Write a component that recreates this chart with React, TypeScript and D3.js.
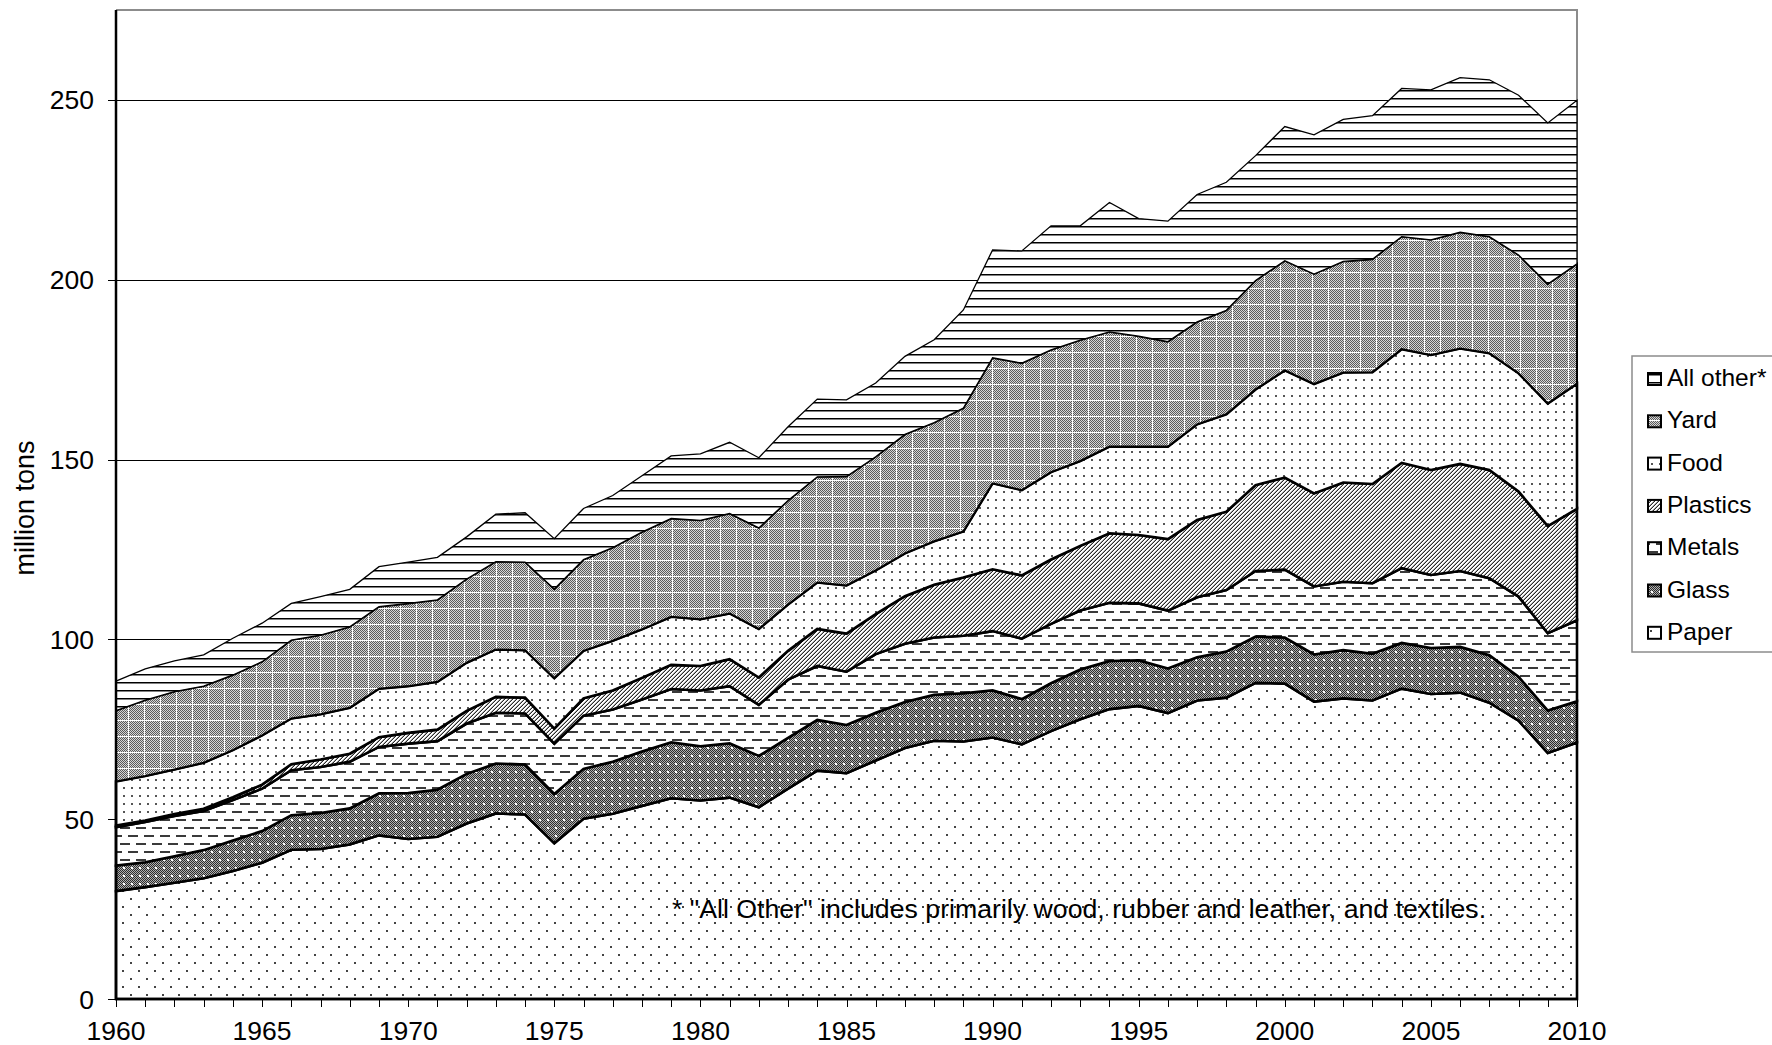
import React, { useRef, useEffect } from "react";
import * as d3 from "d3";

// MSW generation by material, million tons
const years = d3.range(1960, 2011);

const paper = [
  30.0, 31.1, 32.3, 33.6, 35.6, 37.9, 41.5, 41.7, 43.0, 45.5, 44.5,
  45.1, 48.8, 51.6, 51.3, 43.3, 50.1, 51.5, 53.7, 55.8, 55.2,
  56.0, 53.3, 58.5, 63.5, 62.8, 66.3, 69.8, 71.8, 71.6, 72.7,
  70.8, 74.5, 77.8, 80.6, 81.5, 79.5, 83.0, 83.8, 87.9, 87.7,
  82.7, 83.6, 83.0, 86.3, 84.8, 85.2, 82.4, 77.4, 68.4, 71.3,
];
const glass = [
  7.1, 6.9, 7.4, 7.8, 8.5, 8.8, 9.6, 10.0, 10.0, 11.7, 12.8,
  13.1, 13.8, 13.9, 13.9, 13.7, 13.9, 14.5, 15.1, 15.6, 15.1,
  15.1, 14.3, 14.1, 14.1, 13.4, 13.3, 12.8, 12.8, 13.4, 13.1,
  12.6, 13.3, 13.8, 13.4, 12.7, 12.4, 12.0, 12.8, 12.9, 12.8,
  13.1, 13.4, 13.0, 12.7, 12.8, 12.7, 13.2, 12.2, 11.8, 11.5,
];
const metals = [
  10.7, 11.2, 11.2, 10.9, 11.2, 11.8, 12.5, 12.8, 13.0, 12.9, 13.7,
  13.5, 14.0, 14.1, 14.2, 14.0, 14.8, 14.5, 14.5, 14.8, 15.5,
  15.9, 14.2, 16.2, 15.0, 14.8, 16.3, 16.2, 15.9, 16.0, 16.5,
  16.8, 16.5, 16.4, 16.2, 15.8, 16.1, 16.7, 17.1, 18.2, 18.9,
  18.9, 19.0, 19.6, 20.8, 20.3, 21.1, 21.4, 22.3, 21.5, 22.5,
];
const plastics = [
  0.4, 0.4, 0.5, 0.6, 0.8, 1.1, 1.7, 2.1, 2.2, 2.7, 3.0,
  3.2, 3.5, 4.4, 4.4, 4.2, 4.8, 5.3, 6.0, 6.7, 6.8,
  7.5, 7.6, 8.0, 10.3, 10.6, 11.1, 13.2, 14.7, 16.2, 17.2,
  17.6, 17.9, 18.0, 19.3, 19.0, 19.9, 21.5, 21.8, 23.9, 25.6,
  25.9, 27.6, 27.6, 29.3, 29.2, 29.8, 30.1, 29.2, 29.8, 31.0,
];
const food = [
  12.3, 12.4, 12.4, 12.8, 13.1, 13.7, 12.7, 12.6, 12.8, 13.5, 13.0,
  13.3, 13.4, 13.2, 13.2, 14.0, 13.2, 13.8, 13.5, 13.4, 13.0,
  12.7, 13.5, 12.9, 12.9, 13.4, 12.2, 11.9, 12.1, 12.8, 23.9,
  23.7, 24.3, 23.6, 24.1, 24.6, 25.7, 26.6, 27.1, 26.6, 29.8,
  30.4, 30.6, 31.1, 31.6, 32.0, 32.1, 32.5, 32.9, 34.1, 34.8,
];
const yard = [
  19.7, 21.1, 21.7, 21.3, 20.9, 20.5, 21.8, 22.0, 22.5, 22.8, 23.0,
  22.8, 23.3, 24.4, 24.5, 24.8, 25.4, 25.9, 27.0, 27.3, 27.5,
  27.8, 28.1, 28.9, 29.4, 30.3, 31.6, 33.1, 33.0, 34.3, 34.9,
  35.3, 34.0, 33.6, 31.9, 30.7, 29.2, 28.5, 28.9, 30.3, 30.5,
  30.6, 30.9, 31.4, 31.3, 32.0, 32.3, 32.4, 32.9, 33.2, 33.3,
];
const allOther = [
  8.2, 8.7, 8.5, 8.7, 10.2, 10.7, 10.2, 10.7, 10.4, 11.1, 11.5,
  11.8, 11.7, 13.2, 13.7, 14.0, 14.2, 14.5, 15.7, 17.4, 18.5,
  19.8, 19.5, 20.5, 21.6, 21.3, 20.5, 21.7, 23.0, 27.3, 30.0,
  31.2, 34.5, 31.8, 36.0, 32.7, 33.5, 35.4, 35.6, 34.7, 37.3,
  38.7, 39.5, 39.9, 41.2, 41.7, 43.0, 43.6, 44.4, 44.8, 45.5,
];

const keys = ["paper", "glass", "metals", "plastics", "food", "yard", "other"];
const labels: Record<string, string> = {
  paper: "Paper",
  glass: "Glass",
  metals: "Metals",
  plastics: "Plastics",
  food: "Food",
  yard: "Yard",
  other: "All other*",
};
const yTicks = [0, 50, 100, 150, 200, 250];
const xLabels = [1960, 1965, 1970, 1975, 1980, 1985, 1990, 1995, 2000, 2005, 2010];
const footnote = '* "All Other" includes primarily wood, rubber and leather, and textiles.';

const W = 1772;
const H = 1045;
const FONT = "'Liberation Sans', Arial, sans-serif";

const App = () => {
  const ref = useRef<SVGSVGElement>(null);

  useEffect(() => {
    const svg = d3.select(ref.current);
    svg.selectAll("*").remove();

    const rows = years.map((yr, i) => ({
      year: yr,
      paper: paper[i],
      glass: glass[i],
      metals: metals[i],
      plastics: plastics[i],
      food: food[i],
      yard: yard[i],
      other: allOther[i],
    }));

    const x = d3.scaleLinear().domain([1960, 2010]).range([116, 1577]);
    const y = d3.scaleLinear().domain([0, 275]).range([999, 10]);

    // fill patterns (pixel tiles, like the old excel hatches)
    const defs = svg.append("defs");
    const makePattern = (id: string, w: number, h: number, bg: string) => {
      const p = defs
        .append("pattern")
        .attr("id", id)
        .attr("patternUnits", "userSpaceOnUse")
        .attr("width", w)
        .attr("height", h);
      p.append("rect").attr("width", w).attr("height", h).attr("fill", bg);
      return p;
    };
    const px = (p: any, px0: number, py0: number, w: number, h: number, c: string) => {
      p.append("rect")
        .attr("x", px0)
        .attr("y", py0)
        .attr("width", w)
        .attr("height", h)
        .attr("fill", c)
        .attr("shape-rendering", "crispEdges");
    };
    const checker = (p: any, w: number, h: number, c: string) => {
      for (let j = 0; j < h; j++)
        for (let i = 0; i < w; i++) if ((i + j) % 2 === 0) px(p, i, j, 1, 1, c);
    };

    let p = makePattern("pat-paper", 16, 16, "#fff");
    px(p, 2, 2, 2, 2, "#444");
    px(p, 10, 10, 2, 2, "#444");

    p = makePattern("pat-glass", 8, 8, "#b0b0b0");
    checker(p, 8, 8, "#2c2c2c");
    px(p, 3, 3, 2, 2, "#fff");

    p = makePattern("pat-metals", 16, 16, "#fff");
    px(p, 0, 3, 10, 2, "#3a3a3a");
    px(p, 8, 11, 8, 2, "#3a3a3a");
    px(p, 0, 11, 2, 2, "#3a3a3a");

    p = makePattern("pat-plastics", 4, 4, "#fff");
    for (let j = 0; j < 4; j++)
      for (let i = 0; i < 4; i++) {
        if ((i + j) % 4 === 3) px(p, i, j, 1, 1, "#2a2a2a");
        if ((i + j) % 4 === 2) px(p, i, j, 1, 1, "#a8a8a8");
      }

    p = makePattern("pat-food", 8, 8, "#fff");
    px(p, 3, 3, 2, 2, "#555");

    p = makePattern("pat-yard", 16, 16, "#d4d4d4");
    checker(p, 16, 16, "#5a5a5a");
    px(p, 0, 0, 16, 1, "#fff");
    px(p, 0, 0, 1, 16, "#fff");

    p = makePattern("pat-other", 8, 8, "#fff");
    px(p, 0, 2, 8, 1, "#000");
    px(p, 0, 3, 8, 1, "#808080");

    // background + grid
    svg.append("rect").attr("width", W).attr("height", H).attr("fill", "#fff");

    svg
      .append("g")
      .selectAll("line")
      .data(yTicks.filter((d) => d > 0))
      .enter()
      .append("line")
      .attr("x1", 116)
      .attr("x2", 1577)
      .attr("y1", (d) => Math.round(y(d)) + 0.5)
      .attr("y2", (d) => Math.round(y(d)) + 0.5)
      .attr("stroke", "#000")
      .attr("stroke-width", 1);

    // plot area border (grey, top and right)
    svg
      .append("path")
      .attr("d", "M116,10 H1577 V999")
      .attr("fill", "none")
      .attr("stroke", "#8c8c8c")
      .attr("stroke-width", 2);

    // stacked areas
    const stackedData = d3.stack<any>().keys(keys)(rows);
    const area = d3
      .area<any>()
      .x((d) => x(d.data.year))
      .y0((d) => y(d[0]))
      .y1((d) => y(d[1]));

    const strokeW: Record<string, number> = {
      paper: 2.6,
      glass: 2.6,
      metals: 2.6,
      plastics: 2.6,
      food: 2.6,
      yard: 2,
      other: 1.3,
    };

    svg
      .append("g")
      .selectAll("path")
      .data(stackedData)
      .enter()
      .append("path")
      .attr("d", (d) => area(d))
      .attr("fill", (d) => `url(#pat-${d.key})`)
      .attr("stroke", "#000")
      .attr("stroke-width", (d) => strokeW[d.key])
      .attr("stroke-linejoin", "miter");

    // axes
    svg
      .append("line")
      .attr("x1", 116)
      .attr("x2", 116)
      .attr("y1", 10)
      .attr("y2", 1000)
      .attr("stroke", "#000")
      .attr("stroke-width", 2.5);
    svg
      .append("line")
      .attr("x1", 115)
      .attr("x2", 1578)
      .attr("y1", 999)
      .attr("y2", 999)
      .attr("stroke", "#000")
      .attr("stroke-width", 2.5);

    svg
      .append("g")
      .selectAll("line")
      .data(yTicks)
      .enter()
      .append("line")
      .attr("x1", 108)
      .attr("x2", 116)
      .attr("y1", (d) => Math.round(y(d)) + 0.5)
      .attr("y2", (d) => Math.round(y(d)) + 0.5)
      .attr("stroke", "#000")
      .attr("stroke-width", 1);

    svg
      .append("g")
      .selectAll("line")
      .data(years)
      .enter()
      .append("line")
      .attr("x1", (d) => Math.round(x(d)) + 0.5)
      .attr("x2", (d) => Math.round(x(d)) + 0.5)
      .attr("y1", 999)
      .attr("y2", 1007)
      .attr("stroke", "#000")
      .attr("stroke-width", 1);

    svg
      .append("g")
      .selectAll("text")
      .data(yTicks)
      .enter()
      .append("text")
      .attr("x", 94)
      .attr("y", (d) => y(d) + 9.5)
      .attr("text-anchor", "end")
      .style("font-family", FONT)
      .style("font-size", "26.5px")
      .text((d) => d);

    svg
      .append("g")
      .selectAll("text")
      .data(xLabels)
      .enter()
      .append("text")
      .attr("x", (d) => x(d))
      .attr("y", 1040)
      .attr("text-anchor", "middle")
      .style("font-family", FONT)
      .style("font-size", "26.5px")
      .text((d) => d);

    svg
      .append("text")
      .attr("transform", "translate(34, 508) rotate(-90)")
      .attr("text-anchor", "middle")
      .style("font-family", FONT)
      .style("font-size", "27px")
      .text("million tons");

    // footnote
    svg
      .append("text")
      .attr("x", 672)
      .attr("y", 918)
      .style("font-family", FONT)
      .style("font-size", "26.7px")
      .text(footnote);

    // legend
    const legend = svg.append("g").attr("transform", "translate(1632, 356)");
    legend
      .append("rect")
      .attr("width", 160)
      .attr("height", 296)
      .attr("fill", "#fff")
      .attr("stroke", "#8c8c8c")
      .attr("stroke-width", 1.5);

    const legendKeys = keys.slice().reverse();
    legend
      .selectAll("rect.swatch")
      .data(legendKeys)
      .enter()
      .append("rect")
      .attr("class", "swatch")
      .attr("x", 16)
      .attr("y", (d, i) => 17 + i * 42.3)
      .attr("width", 13)
      .attr("height", 12)
      .attr("fill", (d) => `url(#pat-${d})`)
      .attr("stroke", "#000")
      .attr("stroke-width", 2);

    legend
      .selectAll("text")
      .data(legendKeys)
      .enter()
      .append("text")
      .attr("x", 35)
      .attr("y", (d, i) => 30 + i * 42.3)
      .style("font-family", FONT)
      .style("font-size", "24.5px")
      .text((d) => labels[d]);
  }, []);

  return (
    <svg
      ref={ref}
      width={W}
      height={H}
      style={{ position: "absolute", left: 0, top: 0, display: "block" }}
    />
  );
};

export default App;
